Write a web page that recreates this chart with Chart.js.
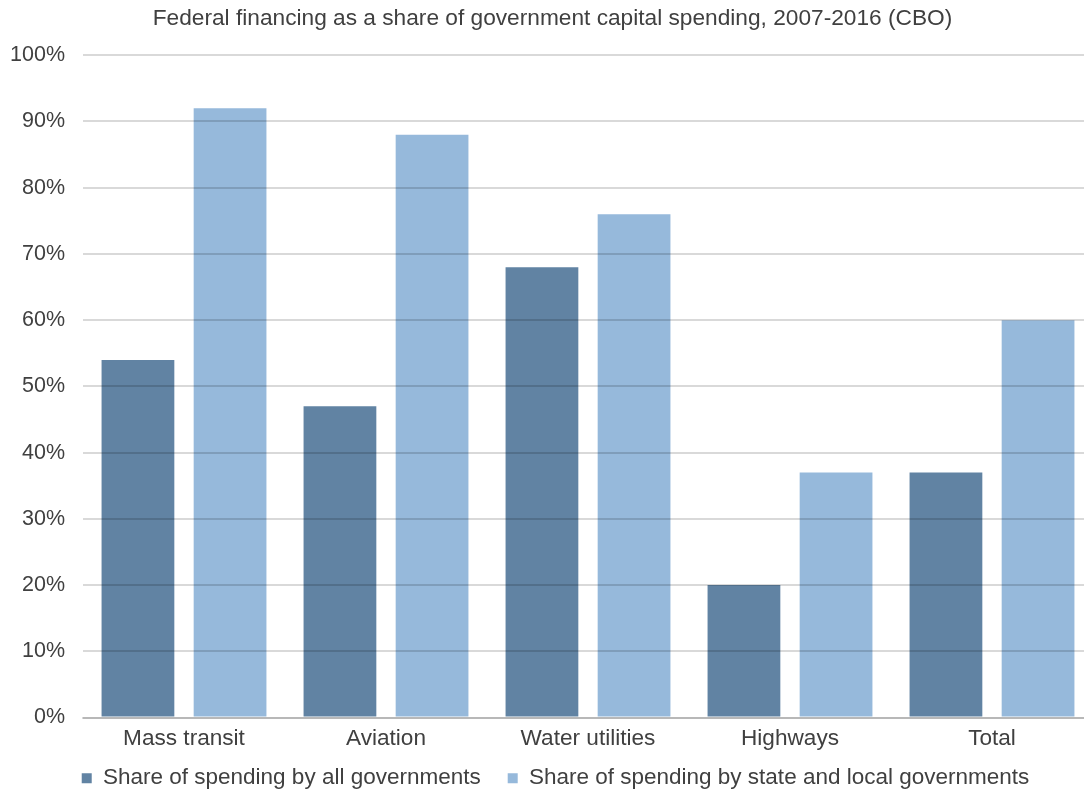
<!DOCTYPE html>
<html><head><meta charset="utf-8">
<script src="https://cdn.jsdelivr.net/npm/chart.js@4"></script>
<style>html,body{margin:0;padding:0;background:#fff;overflow:hidden}#wrap{width:1084px;height:792px;overflow:hidden}</style>
</head><body><div id="wrap"><canvas id="c" width="1093" height="792"></canvas></div>
<script>
const categories = ["Mass transit", "Aviation", "Water utilities", "Highways", "Total"];
const allGovernments = [54, 47, 68, 20, 37];
const stateLocal = [92, 88, 76, 37, 60];
const seriesNames = ["Share of spending by all governments", "Share of spending by state and local governments"];
const titleText = "Federal financing as a share of government capital spending, 2007-2016 (CBO)";

const FONT = "'Liberation Sans', Arial, sans-serif";
const TXT = "#404040";
const boxShift = {
  id: 'boxShift',
  afterLayout(chart) {
    const lg = chart.legend;
    if (lg) { lg.left += 9; lg.right += 9; lg.top -= 13.5; lg.bottom -= 13.5; }
    const tb = chart.titleBlock;
    if (tb) { tb.left += 6; tb.right += 6; }
  }
};
new Chart(document.getElementById('c'), {
  type: 'bar',
  data: {
    labels: categories,
    datasets: [
      {label: seriesNames[0], data: allGovernments, backgroundColor: '#6183a3', categoryPercentage: 0.912, barPercentage: 0.79},
      {label: seriesNames[1], data: stateLocal, backgroundColor: '#96b9db', categoryPercentage: 0.912, barPercentage: 0.79}
    ]
  },
  plugins: [boxShift],
  options: {
    responsive: false, animation: false,
    layout: {padding: {left: 0, right: 0, top: 0, bottom: -21}},
    plugins: {
      title: {display: true, text: titleText, color: TXT, font: {family: FONT, size: 22.7, weight: 'normal'}, padding: {top: 5, bottom: 23}},
      legend: {position: 'bottom', labels: {color: TXT, font: {family: FONT, size: 22.5}, boxWidth: 10, boxHeight: 10, padding: 27}},
      tooltip: {enabled: false}
    },
    scales: {
      x: {
        afterFit: s => { s.height = 36; },
        grid: {display: false, drawTicks: false},
        border: {color: '#d9d9d9', width: 2},
        ticks: {color: TXT, font: {family: FONT, size: 22.6}, padding: 8}
      },
      y: {
        min: 0, max: 100,
        afterFit: s => { s.width = 83; },
        grid: {color: 'rgba(0,0,0,0.15)', lineWidth: 2, drawTicks: false, z: 1},
        border: {display: false},
        ticks: {stepSize: 10, color: TXT, font: {family: FONT, size: 21.5}, padding: 18, callback: v => v + '%'}
      }
    }
  }
});
</script></body></html>
